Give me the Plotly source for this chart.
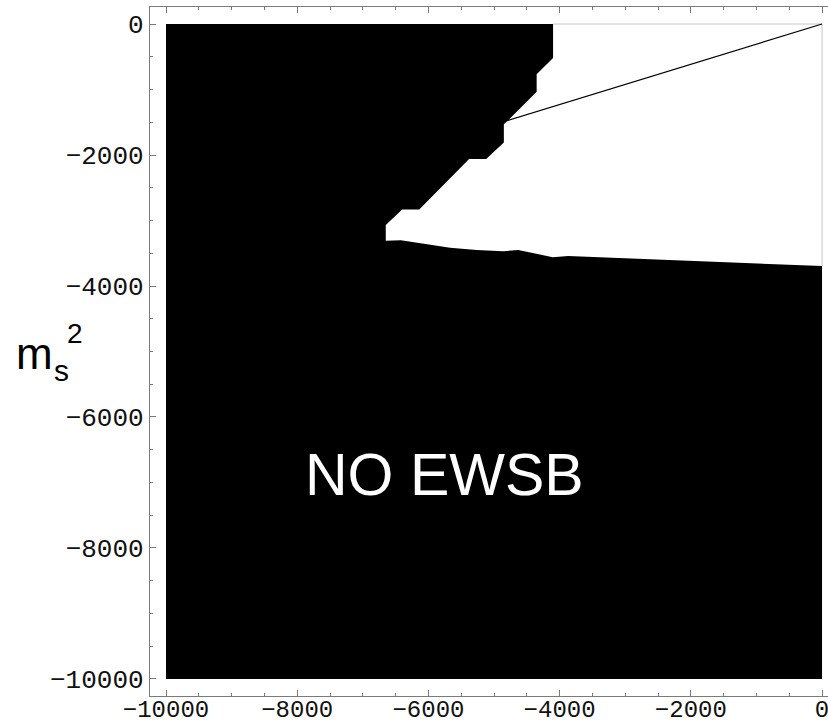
import plotly.graph_objects as go

# Parameter plane bounds
x_min, x_max = -10000, 0
y_min, y_max = -10000, 0

# Boundary of the region with electroweak symmetry breaking (white area),
# traced clockwise starting at the top edge
region_x = [-4100, 0, 0, -3870, -4105, -4375, -4630, -4860, -5265, -5670,
            -6130, -6420, -6650, -6650, -6400, -6140, -5380, -5120, -4850,
            -4850, -4780, -4350, -4350, -4100, -4100]
region_y = [0, 0, -3695, -3540, -3560, -3500, -3450, -3470, -3450, -3415,
            -3350, -3300, -3310, -3070, -2830, -2830, -2060, -2060, -1810,
            -1530, -1465, -1035, -765, -520, 0]

# Straight line from the origin to the corner of the region
line_x = [-4800, 0]
line_y = [-1475, 0]

# Tick positions
major_ticks = [-10000, -8000, -6000, -4000, -2000, 0]
tick_text = ["\u221210000", "\u22128000", "\u22126000", "\u22124000", "\u22122000", "0"]

fig = go.Figure()

# Excluded region: whole square in black
fig.add_trace(go.Scatter(
    x=[x_min, x_max, x_max, x_min, x_min],
    y=[y_max, y_max, y_min, y_min, y_max],
    mode="lines", fill="toself", fillcolor="black",
    line=dict(color="black", width=0), hoverinfo="skip", showlegend=False))

# Allowed region in white
fig.add_trace(go.Scatter(
    x=region_x, y=region_y, mode="lines", fill="toself", fillcolor="white",
    line=dict(color="white", width=0), hoverinfo="skip", showlegend=False))

# Thin grey edge of the plotted square along the white region
fig.add_trace(go.Scatter(
    x=[region_x[0], region_x[1], region_x[2]],
    y=[region_y[0], region_y[1], region_y[2]],
    mode="lines", line=dict(color="#c8c8c8", width=1),
    hoverinfo="skip", showlegend=False))

fig.add_trace(go.Scatter(
    x=line_x, y=line_y, mode="lines", line=dict(color="black", width=1.2),
    hoverinfo="skip", showlegend=False))

axis_common = dict(
    showgrid=False, zeroline=False, showline=True, linecolor="#7a7a7a",
    linewidth=1.3, ticks="inside", ticklen=6, tickwidth=1, tickcolor="#7a7a7a",
    tickvals=major_ticks, ticktext=tick_text,
    automargin=False, ticklabeloverflow="allow",
    minor=dict(dtick=500, ticks="inside", ticklen=3, tickwidth=1,
               tickcolor="#7a7a7a", showgrid=False),
)

fig.update_xaxes(range=[-10244, 91], mirror="ticks", ticklabelstandoff=-9,
                 tickfont=dict(family="Liberation Mono", size=24, color="#111111"),
                 **axis_common)
fig.update_yaxes(range=[-10260, 260], mirror=False,
                 tickfont=dict(family="Liberation Mono", size=26, color="#111111"),
                 **axis_common)

annotations = [
    dict(x=-5750, y=-6880, xref="x", yref="y", text="NO EWSB", showarrow=False,
         font=dict(family="Liberation Sans", size=59, color="white"),
         xanchor="center", yanchor="middle"),
    dict(x=-0.170, y=0.4964, xref="paper", yref="paper", text="m", showarrow=False,
         font=dict(family="Liberation Sans", size=44, color="black"),
         xanchor="center", yanchor="middle"),
    dict(x=-0.1305, y=0.4717, xref="paper", yref="paper", text="s", showarrow=False,
         font=dict(family="Liberation Sans", size=30, color="black"),
         xanchor="center", yanchor="middle"),
    dict(x=-0.1106, y=0.526, xref="paper", yref="paper", text="2", showarrow=False,
         font=dict(family="Liberation Sans", size=28, color="black"),
         xanchor="center", yanchor="middle"),
]

fig.update_layout(
    template="none",
    width=828, height=726,
    margin=dict(l=150, r=0, t=7, b=30, pad=0),
    paper_bgcolor="white", plot_bgcolor="white",
    annotations=annotations, showlegend=False,
)

fig.write_html("out.html")
